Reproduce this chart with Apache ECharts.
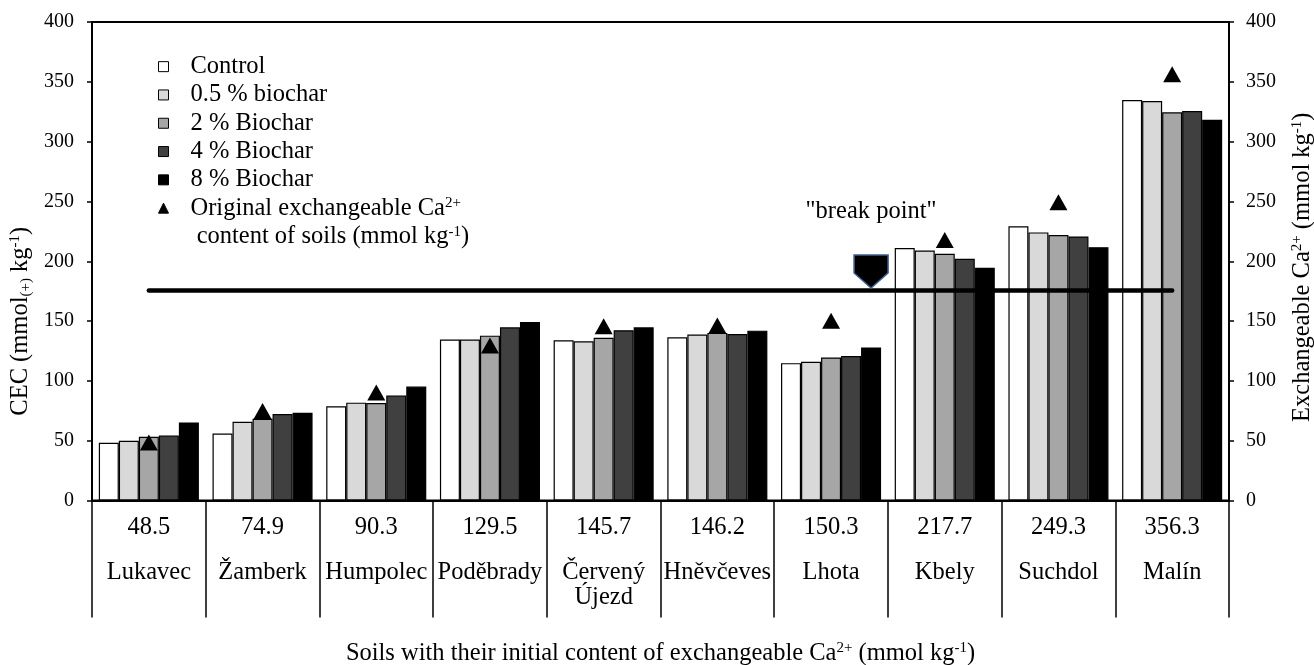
<!DOCTYPE html>
<html>
<head>
<meta charset="utf-8">
<title>CEC of soils with biochar</title>
<script src="https://cdn.jsdelivr.net/npm/echarts@6/dist/echarts.min.js"></script>
<style>
  html, body { margin: 0; padding: 0; background: #ffffff; }
  #chart { width: 1314px; height: 665px; }
</style>
</head>
<body>
<div id="chart"></div>
<script>
// Soils, ordered by their initial exchangeable Ca2+ content (mmol/kg)
const soils = ['Lukavec', 'Žamberk', 'Humpolec', 'Poděbrady', 'Červený Újezd',
               'Hněvčeves', 'Lhota', 'Kbely', 'Suchdol', 'Malín'];
const initialCa = [48.5, 74.9, 90.3, 129.5, 145.7, 146.2, 150.3, 217.7, 249.3, 356.3];

// CEC (mmol(+)/kg) for each biochar dose
const cecControl = [48.2, 56.0, 78.7, 134.5, 133.9, 136.4, 114.8, 211.0, 229.3, 334.7];
const cec05      = [49.9, 65.8, 81.8, 134.5, 133.1, 138.7, 116.0, 209.0, 224.1, 333.9];
const cec2       = [53.2, 68.3, 81.5, 137.8, 136.1, 140.1, 119.6, 206.3, 221.9, 324.5];
const cec4       = [54.3, 72.3, 87.7, 144.8, 142.3, 139.2, 120.7, 202.1, 220.7, 325.6];
const cec8       = [65.3, 73.4, 95.2, 149.3, 144.8, 142.0, 128.0, 194.5, 211.8, 318.3];

// Level of the "break point" line
const breakLevel = 176;
const breakSoil = 'Lhota';

const seriesNames = ['Control', '0.5 % biochar', '2 % Biochar', '4 % Biochar', '8 % Biochar',
                     'Original exchangeable Ca2+ content of soils (mmol kg-1)'];
const barColors = ['#ffffff', '#d9d9d9', '#a6a6a6', '#404040', '#000000'];
const yTicks = { min: 0, max: 400, interval: 50 };

const FONT = "'Liberation Serif', 'Times New Roman', serif";
const supStyle = { fontSize: 15, fontFamily: FONT, color: '#000', verticalAlign: 'top', lineHeight: 26 };
const subStyle = { fontSize: 15, fontFamily: FONT, color: '#000', verticalAlign: 'bottom', lineHeight: 26 };
const baseStyle = { fontSize: 24.5, fontFamily: FONT, color: '#000', lineHeight: 26 };

const chart = echarts.init(document.getElementById('chart'), null, { renderer: 'canvas' });

const barSeries = [cecControl, cec05, cec2, cec4, cec8].map((vals, i) => {
  const s = {
    name: seriesNames[i],
    type: 'bar',
    yAxisIndex: 0,
    data: vals,
    barGap: '0%',
    barCategoryGap: '12%',
    itemStyle: { color: barColors[i], borderColor: '#000', borderWidth: 1.2 },
    emphasis: { disabled: true },
    z: 2
  };
  if (i === 4) {
    s.markPoint = {
      silent: true,
      symbol: 'path://M0,0 L34,0 L34,18 L17,33 L0,18 Z',
      symbolSize: [34, 33],
      symbolOffset: [0, -18.5],
      itemStyle: { color: '#000', borderColor: '#3f5f8f', borderWidth: 1.5 },
      label: {
        show: true,
        position: 'top',
        distance: 30,
        formatter: '"break point"',
        fontFamily: FONT,
        fontSize: 24.5,
        color: '#000'
      },
      data: [{ coord: [breakSoil, breakLevel] }]
    };
  }
  return s;
});

const option = {
  animation: false,
  backgroundColor: '#ffffff',
  textStyle: { fontFamily: FONT, color: '#000' },
  grid: {
    left: 92, right: 85, top: 22, bottom: 164.5,
    outerBoundsMode: 'none',
    containLabel: false,
    show: true, borderColor: '#000', borderWidth: 2, backgroundColor: 'transparent'
  },
  legend: {
    orient: 'vertical',
    left: 153,
    top: 47.5,
    itemWidth: 10,
    itemHeight: 10,
    itemGap: 0,
    selectedMode: false,
    itemStyle: { borderColor: '#000', borderWidth: 1 },
    textStyle: {
      fontFamily: FONT, fontSize: 24.5, color: '#000', lineHeight: 28.3,
      padding: [0, 0, 0, 17],
      rich: {
        t: { fontFamily: FONT, fontSize: 24.5, color: '#000', lineHeight: 28.3 },
        sup: { fontFamily: FONT, fontSize: 15, color: '#000', verticalAlign: 'top', lineHeight: 28.3, padding: [2, 0, 0, 0] }
      }
    },
    formatter: function (name) {
      if (name === seriesNames[5]) {
        return '{t|Original exchangeable Ca}{sup|2+}\n{t| content of soils (mmol kg}{sup|-1}{t|)}';
      }
      return name;
    },
    data: [
      { name: seriesNames[0], icon: 'rect' },
      { name: seriesNames[1], icon: 'rect' },
      { name: seriesNames[2], icon: 'rect' },
      { name: seriesNames[3], icon: 'rect' },
      { name: seriesNames[4], icon: 'rect' },
      // two-line entry: keep its first line level with the marker
      { name: seriesNames[5], icon: 'triangle', textStyle: { padding: [0, 0, -28.3, 17] } }
    ]
  },
  xAxis: {
    type: 'category',
    data: soils,
    boundaryGap: true,
    axisLine: { show: true, lineStyle: { color: '#000', width: 2 } },
    axisTick: { show: true, interval: 0, inside: false, length: 117, lineStyle: { color: '#000', width: 1.5 } },
    axisLabel: {
      interval: 0,
      margin: -5,
      formatter: function (value, idx) {
        const names = value.split(' ').map(w => '{n|' + w + '}').join('\n');
        return '{v|' + initialCa[idx].toFixed(1) + '}\n' + names;
      },
      rich: {
        v: { fontFamily: FONT, fontSize: 24.5, color: '#000', lineHeight: 65 },
        n: { fontFamily: FONT, fontSize: 24.5, color: '#000', lineHeight: 25 }
      }
    },
    splitLine: { show: false },
    name: 'Soils with their initial content of exchangeable Ca{sup|2+} (mmol kg{sup|-1})',
    nameLocation: 'middle',
    nameGap: 140,
    nameTextStyle: { ...baseStyle, rich: { sup: supStyle } }
  },
  yAxis: [
    {
      type: 'value',
      position: 'left',
      min: yTicks.min, max: yTicks.max, interval: yTicks.interval,
      axisLine: { show: true, lineStyle: { color: '#000', width: 2 } },
      axisTick: { show: true, inside: false, length: 5, lineStyle: { color: '#000', width: 1.5 } },
      axisLabel: { margin: 18, fontFamily: FONT, fontSize: 20, color: '#000' },
      splitLine: { show: false },
      name: '{t|CEC (mmol}{sub|(+)}{t| kg}{sup|-1}{t|)}',
      nameLocation: 'middle',
      nameRotate: 90,
      nameGap: 51,
      nameTextStyle: {
        ...baseStyle,
        padding: [0, 120, 0, 0],
        rich: { t: baseStyle, sup: supStyle, sub: subStyle }
      }
    },
    {
      type: 'value',
      position: 'right',
      min: yTicks.min, max: yTicks.max, interval: yTicks.interval,
      axisLine: { show: true, lineStyle: { color: '#000', width: 2 } },
      axisTick: { show: true, inside: false, length: 5, lineStyle: { color: '#000', width: 1.5 } },
      axisLabel: { margin: 17, fontFamily: FONT, fontSize: 20, color: '#000' },
      splitLine: { show: false },
      name: '{t|Exchangeable Ca}{sup|2+}{t| (mmol kg}{sup|-1}{t|)}',
      nameLocation: 'middle',
      nameRotate: 90,
      nameGap: 61,
      nameTextStyle: {
        ...baseStyle,
        padding: [0, 12, 0, 0],
        rich: { t: baseStyle, sup: supStyle }
      }
    }
  ],
  series: barSeries.concat([
    {
      name: seriesNames[5],
      type: 'scatter',
      yAxisIndex: 1,
      data: initialCa,
      symbol: 'triangle',
      symbolSize: [18, 16],
      itemStyle: { color: '#000', opacity: 1 },
      emphasis: { disabled: true },
      z: 4,
      markLine: {
        silent: true,
        symbol: 'none',
        label: { show: false },
        lineStyle: { color: '#000', width: 4.5, type: 'solid', cap: 'round' },
        data: [[
          { coord: [soils[0], breakLevel] },
          { coord: [soils[soils.length - 1], breakLevel] }
        ]]
      }
    }
  ])
};

chart.setOption(option);
</script>
</body>
</html>
